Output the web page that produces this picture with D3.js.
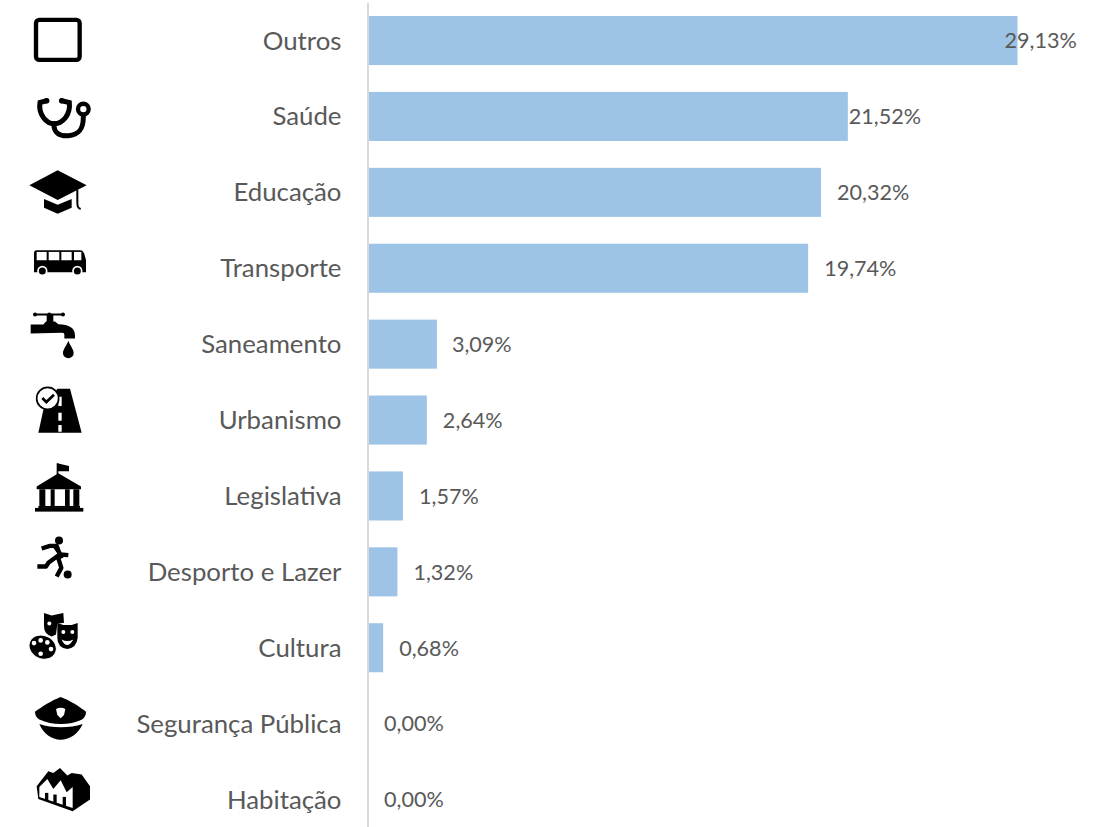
<!DOCTYPE html>
<html><head><meta charset="utf-8">
<script src="https://cdn.jsdelivr.net/npm/d3@7/dist/d3.min.js"></script>
<style>html,body{margin:0;padding:0;background:#fff;overflow:hidden}svg{display:block}</style>
</head><body><svg id="c" width="1097" height="827"></svg>
<script>
const categories=["Outros","Saúde","Educação","Transporte","Saneamento","Urbanismo","Legislativa","Desporto e Lazer","Cultura","Segurança Pública","Habitação"];
const values=[29.13,21.52,20.32,19.74,3.09,2.64,1.57,1.32,0.68,0,0];
const iconNames=["square","stethoscope","cap","bus","tap","road","building","runner","masks","police","factory"];
const labelOffsets=[-13,1,16,16,15,16,16,16,16,16,16];

const W=1097,H=827,x0=368;
const svg=d3.select("#c");
const x=d3.scaleLinear().domain([0,29.13]).range([x0,1017.5]);
const y=d3.scaleBand().domain(categories).range([2.6,837.5]).paddingInner(.354).paddingOuter(.177);
const font="Lato,sans-serif";

svg.append("g").selectAll("rect").data(categories).join("rect")
  .attr("x",x0).attr("y",c=>y(c)).attr("height",y.bandwidth())
  .attr("width",(c,i)=>x(values[i])-x0).attr("fill","#9dc3e6");

const axis=svg.append("g").attr("transform",`translate(${x0-.5},0)`)
  .call(d3.axisLeft(y).tickSize(0).tickPadding(26));
axis.select(".domain").attr("stroke","#d9d9d9").attr("stroke-width",2);
axis.selectAll("text").attr("fill","#595959").attr("y",.7).style("font-family",font).style("font-size","25.8px");

svg.append("g").selectAll("text").data(categories).join("text")
  .attr("x",(c,i)=>x(values[i])+labelOffsets[i])
  .attr("y",c=>y(c)+y.bandwidth()/2).attr("dy",".36em")
  .attr("fill","#595959").style("font-family",font).style("font-size","21.6px")
  .text((c,i)=>d3.format(".2f")(values[i]).replace(".",",")+"%");

// pictograms: local units are 1/3 px, origin at x=20 and the row centre
const icons={
 square:g=>{g.append("rect").attr("x",48).attr("y",-62).attr("width",131).attr("height",120).attr("rx",10).attr("fill","none").attr("stroke","#000").attr("stroke-width",13);},
 stethoscope:g=>{
  const s=g.append("g").attr("fill","none").attr("stroke","#000").attr("stroke-linecap","round");
  s.append("path").attr("stroke-width",15).attr("d","M80 -47 L60 -42 C54 -5 80 22 102 22 C128 22 152 -5 148 -42 L125 -47");
  s.append("path").attr("stroke-width",15).attr("d","M102 22 C100 50 120 60 145 58 C180 55 190 35 190 2");
  s.append("circle").attr("cx",190).attr("cy",-22).attr("r",16).attr("stroke-width",13);
  g.append("circle").attr("cx",80).attr("cy",-47).attr("r",8);
  g.append("circle").attr("cx",125).attr("cy",-47).attr("r",8);
 },
 cap:g=>{
  g.append("path").attr("d","M113 -66 L200 -21 L113 23 L28 -21Z");
  g.append("path").attr("d","M72 20 L113 37 L155 20 L155 46 L113 64 L72 46Z");
  g.append("path").attr("d","M172 -8 L172 32 C172 46 176 48 182 50").attr("fill","none").attr("stroke","#000").attr("stroke-width",6);
 },
 bus:g=>{
  g.append("path").attr("d","M50 -54 L180 -54 Q192 -54 195 -35 L198 -25 L198 12 L42 12 L42 -44 Q42 -54 50 -54Z");
  [[50,30],[86,32],[124,31],[162,22]].forEach(w=>g.append("rect").attr("x",w[0]).attr("y",-49).attr("width",w[1]).attr("height",25).attr("fill","#fff"));
  [67,172].forEach(cx=>g.append("circle").attr("cx",cx).attr("cy",8).attr("r",13).attr("stroke","#fff").attr("stroke-width",5));
 },
 tap:g=>{
  g.append("rect").attr("x",42).attr("y",-92).attr("width",90).attr("height",6).attr("rx",3);
  [45,88,129].forEach(cx=>g.append("circle").attr("cx",cx).attr("cy",-89).attr("r",6));
  g.append("rect").attr("x",80).attr("y",-89).attr("width",20).attr("height",25);
  g.append("path").attr("d","M32 -59 L70 -59 L78 -68 L105 -68 L115 -60 Q165 -60 165 -25 L165 -17 L133 -17 L133 -30 Q133 -34 125 -34 L32 -32Z");
  g.append("path").attr("d","M145 -10 C150 5 161 15 161 27 A16 15 0 0 1 129 27 C129 15 140 5 145 -10Z");
 },
 road:g=>{
  g.append("path").attr("d","M112 -94 L150 -94 L185 38 L55 38 L70 -30Z");
  [[-70,28],[-22,24],[15,20]].forEach(d=>g.append("rect").attr("x",115).attr("y",d[0]).attr("width",10).attr("height",d[1]).attr("fill","#fff"));
  g.append("circle").attr("cx",83).attr("cy",-65).attr("r",33).attr("fill","#fff").attr("stroke","#000").attr("stroke-width",5);
  g.append("path").attr("d","M67 -66 L79 -54 L102 -76").attr("fill","none").attr("stroke","#000").attr("stroke-width",8);
 },
 building:g=>{
  g.append("rect").attr("x",110).attr("y",-98).attr("width",5).attr("height",35);
  g.append("path").attr("d","M112 -98 L147 -90 L147 -74 L112 -74Z");
  g.append("path").attr("d","M50 -28 L115 -68 L183 -28 L183 -20 L50 -20Z");
  [[58,18],[92,12],[135,14],[160,18]].forEach(c=>g.append("rect").attr("x",c[0]).attr("y",-20).attr("width",c[1]).attr("height",50));
  g.append("rect").attr("x",55).attr("y",30).attr("width",125).attr("height",6);
  g.append("rect").attr("x",45).attr("y",36).attr("width",145).attr("height",11);
 },
 runner:g=>{
  g.append("circle").attr("cx",117).attr("cy",-94).attr("r",12);
  g.append("path").attr("d","M65 -70 L90 -78 L110 -78 L124 -40 M105 -76 L122 -52 L145 -50 M116 -50 L86 -28 L78 -16 L52 -16 M112 -50 L124 -12 L110 14").attr("fill","none").attr("stroke","#000").attr("stroke-width",13).attr("stroke-linejoin","round");
  g.append("circle").attr("cx",143).attr("cy",8).attr("r",12);
 },
 masks:g=>{
  g.append("path").attr("d","M72 -104 L95 -97 L130 -104 L132 -75 L112 -72 L108 -40 L95 -34 Q72 -40 72 -65Z");
  g.append("circle").attr("cx",88).attr("cy",-73).attr("r",6).attr("fill","#fff");
  g.append("path").attr("d","M112 -74 L130 -68 L155 -68 L173 -74 L173 -30 Q170 0 142 4 Q112 0 112 -30Z");
  [130,157].forEach(cx=>g.append("circle").attr("cx",cx).attr("cy",-47).attr("r",6).attr("fill","#fff"));
  g.append("path").attr("d","M125 -25 Q142 -15 160 -25 Q150 -8 142 -8 Q132 -8 125 -25Z").attr("fill","#fff");
  g.append("ellipse").attr("cx",68).attr("cy",-2).attr("rx",42).attr("ry",35).attr("transform","rotate(25 68 -2)").attr("stroke","#fff").attr("stroke-width",3);
  [[42,-14],[62,-22],[82,-16],[93,4],[62,18]].forEach(p=>g.append("circle").attr("cx",p[0]).attr("cy",p[1]).attr("r",7).attr("fill","#fff"));
 },
 police:g=>{
  g.append("path").attr("d","M122 -80 C150 -70 180 -50 198 -36 C198 -22 190 -15 185 -12 C150 5 95 5 60 -12 C52 -15 45 -25 45 -36 C65 -50 95 -70 122 -80Z");
  g.append("path").attr("d","M58 1 C95 14 150 14 188 1 C175 30 150 48 122 48 C95 48 70 30 58 1Z");
  g.append("path").attr("d","M108 -44 Q122 -52 136 -44 L132 -26 L122 -16 L112 -26Z").attr("fill","#fff");
 },
 factory:g=>{
  g.append("path").attr("d","M50 -40 L85 -85 L100 -80 L120 -95 L142 -72 L155 -80 L185 -75 L210 -40 L210 0 L158 35 L55 -2Z");
  g.append("path").attr("d","M58 -38 L82 -62 L100 -32 L122 -58 L140 -22 L158 -38 L158 25 L58 -8Z").attr("fill","#fff");
  [[75,-20,10,22],[100,-15,10,26],[128,-8,10,28]].forEach(r=>g.append("rect").attr("x",r[0]).attr("y",r[1]).attr("width",r[2]).attr("height",r[3]));
 }
};
svg.append("g").selectAll("g").data(categories).join("g")
  .attr("transform",c=>`translate(20,${y(c)+y.bandwidth()/2}) scale(${1/3})`)
  .attr("fill","#000")
  .each(function(c,i){icons[iconNames[i]](d3.select(this));});
</script></body></html>
